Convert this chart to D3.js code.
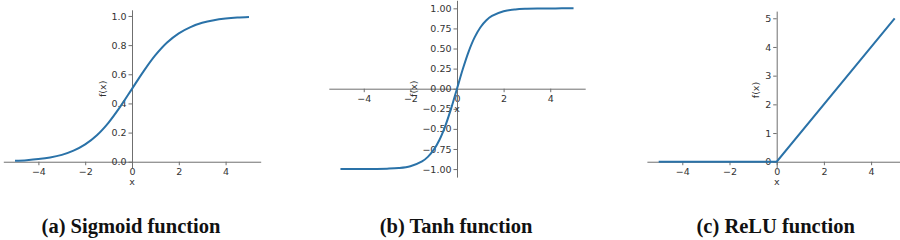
<!DOCTYPE html>
<html>
<head>
<meta charset="utf-8">
<script src="https://cdn.jsdelivr.net/npm/d3@7"></script>
<style>
  body { margin: 0; background: #fff; }
  svg { display: block; }
</style>
</head>
<body>
<div id="chart"></div>
<script>
// values
const xTicks = [-4, -2, 0, 2, 4];

const sigmoidX = [-5, -4.5, -4, -3.5, -3, -2.5, -2, -1.5, -1, -0.5, 0, 0.5, 1, 1.5, 2, 2.5, 3, 3.5, 4, 4.5, 5];
const sigmoidY = [0.007, 0.011, 0.018, 0.029, 0.047, 0.076, 0.119, 0.182, 0.269, 0.378, 0.5, 0.622, 0.731, 0.818, 0.881, 0.924, 0.953, 0.971, 0.982, 0.989, 0.993];
const sigmoidTicks = [0, 0.2, 0.4, 0.6, 0.8, 1.0];

const tanhX = [-5, -4.5, -4, -3.5, -3, -2.5, -2, -1.5, -1.25, -1, -0.75, -0.5, -0.25, 0, 0.25, 0.5, 0.75, 1, 1.25, 1.5, 2, 2.5, 3, 3.5, 4, 4.5, 5];
const tanhY = [-1.0, -1.0, -0.999, -0.998, -0.995, -0.987, -0.964, -0.905, -0.848, -0.762, -0.635, -0.462, -0.245, 0, 0.245, 0.462, 0.635, 0.762, 0.848, 0.905, 0.964, 0.987, 0.995, 0.998, 0.999, 1.0, 1.0];
const tanhTicks = [-1, -0.75, -0.5, -0.25, 0, 0.25, 0.5, 0.75, 1];

const reluX = [-5, 0, 5];
const reluY = [0, 0, 5];
const reluTicks = [0, 1, 2, 3, 4, 5];

const captions = ["(a) Sigmoid function", "(b) Tanh function", "(c) ReLU function"];

const width = 900, height = 240;
const lineColor = "#2a72a8";
const axisColor = "#6f6f6f";
const textColor = "#333";

const svg = d3.select("#chart").append("svg")
  .attr("width", width)
  .attr("height", height);

// pixel frame of each axes box
const panels = [
  { xs: sigmoidX, ys: sigmoidY, ticks: sigmoidTicks, fmt: d3.format(".1f"), curve: d3.curveCatmullRom, frame: [3.3, 260.7, 9.8, 167.9], caption: captions[0] },
  { xs: tanhX, ys: tanhY, ticks: tanhTicks, fmt: d3.format(".2f"), curve: d3.curveCatmullRom, frame: [328.8, 585.2, 0.3, 177.1], caption: captions[1] },
  { xs: reluX, ys: reluY, ticks: reluTicks, fmt: d3.format("d"), curve: d3.curveLinear, frame: [646.9, 906.5, 11.1, 168.9], caption: captions[2] }
];

// matplotlib style 5% margins
function padded(ext) {
  const m = (ext[1] - ext[0]) * 0.05;
  return [ext[0] - m, ext[1] + m];
}

panels.forEach(p => {
  const [left, right, top, bottom] = p.frame;
  const x = d3.scaleLinear().domain(padded(d3.extent(p.xs))).range([left, right]);
  const y = d3.scaleLinear().domain(padded(d3.extent(p.ys))).range([bottom, top]);

  const g = svg.append("g");

  const xAxis = g.append("g")
    .attr("transform", `translate(0,${y(0)})`)
    .call(d3.axisBottom(x).tickValues(xTicks).tickSize(3.5).tickSizeOuter(0).tickPadding(3).tickFormat(d3.format("d")));

  const yAxis = g.append("g")
    .attr("transform", `translate(${x(0)},0)`)
    .call(d3.axisLeft(y).tickValues(p.ticks).tickSize(3.5).tickSizeOuter(0).tickPadding(2).tickFormat(p.fmt));

  [xAxis, yAxis].forEach(a => {
    a.selectAll("path.domain").attr("stroke", axisColor).attr("stroke-width", 1);
    a.selectAll(".tick line").attr("stroke", axisColor);
    a.selectAll("text")
      .attr("fill", textColor)
      .style("font-family", "'DejaVu Sans', sans-serif")
      .style("font-size", "9.5px");
  });

  const data = p.xs.map((v, i) => [v, p.ys[i]]);
  g.append("path")
    .datum(data)
    .attr("fill", "none")
    .attr("stroke", lineColor)
    .attr("stroke-width", 2)
    .attr("d", d3.line().x(d => x(d[0])).y(d => y(d[1])).curve(p.curve));

  // axis labels
  g.append("text")
    .attr("x", x(0))
    .attr("y", y(0) + 20)
    .attr("dy", "0.35em")
    .attr("text-anchor", "middle")
    .attr("fill", textColor)
    .style("font-family", "'DejaVu Sans', sans-serif")
    .style("font-size", "9.5px")
    .text("x");

  let minX = Infinity;
  yAxis.selectAll(".tick text").each(function() {
    const b = this.getBBox();
    minX = Math.min(minX, b.x);
  });
  const labelX = x(0) + minX - 9;
  const labelY = (top + bottom) / 2;
  g.append("text")
    .attr("transform", `translate(${labelX},${labelY}) rotate(-90)`)
    .attr("text-anchor", "middle")
    .attr("dy", "0.35em")
    .attr("fill", textColor)
    .style("font-family", "'DejaVu Sans', sans-serif")
    .style("font-size", "9.5px")
    .text("f(x)");

  svg.append("text")
    .attr("x", x(0) - 1)
    .attr("y", 233)
    .attr("text-anchor", "middle")
    .attr("fill", "#111")
    .style("font-family", "'Liberation Serif', 'Times New Roman', serif")
    .style("font-weight", "bold")
    .style("font-size", "20.5px")
    .text(p.caption);
});
</script>
</body>
</html>
